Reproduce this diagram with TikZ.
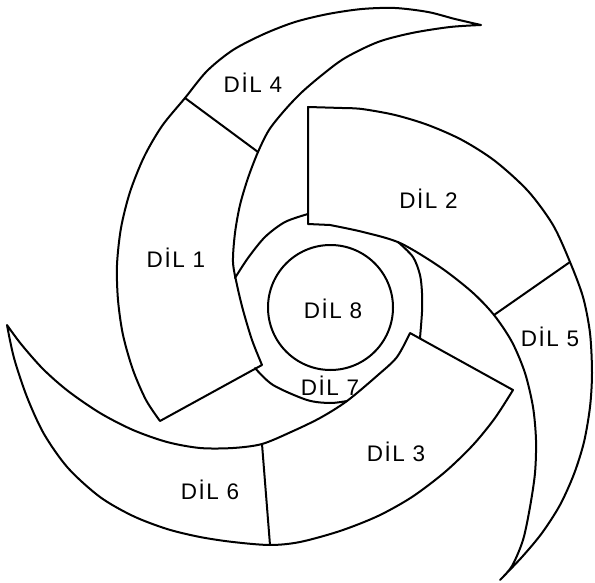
\documentclass[tikz,border=0pt]{standalone}
\usepackage{fontspec}
\setmainfont{Liberation Sans}[LetterSpace=7]
\begin{document}
\begin{tikzpicture}[x=1pt,y=-1pt,
  edge/.style={line width=2pt,line join=round,line cap=round},
  lbl/.style={anchor=base,inner sep=0pt,font=\fontsize{22.5}{26}\selectfont}]
\useasboundingbox (0,0) rectangle (595,583);
% blade 1 (DIL 4 + DIL 1)
\draw[edge] plot[smooth] coordinates {(481,25) (455,19) (428,12) (395,8) (362,9) (328,14) (295,22) (264,34) (233,50) (207,71) (185,98) (162,126) (144,157) (130,192) (121,228) (117,265) (118,300) (123,335) (133,370) (146,400) (160,421)}
  -- plot[smooth] coordinates {(262,365) (252,340) (243,310) (237,285) (233,262) (235,233) (240,205) (248,178) (258,152) (269,130) (284,111) (301,93) (322,75) (345,58) (378,42) (412,33) (450,27) (481,25)};
% blade 2 (DIL 2 + DIL 5)
\draw[edge] (308,224) -- (308,107) -- plot[smooth] coordinates {(342,108) (362,109) (395,115) (428,125) (462,140) (495,161) (528,191) (553,225) (570,262) (583,297) (590,333) (592,373) (590,407) (584,442) (574,474) (560,505) (542,533) (522,557) (500,580)}
  -- plot[smooth] coordinates {(500,580) (512,566) (523,540) (530,507) (535,473) (536,440) (533,407) (525,373) (512,342) (494,315) (472,292) (440,267) (400,243) (363,232) (330,225)} -- cycle;
% blade 3 (DIL 3 + DIL 6)
\draw[edge] (410,333) -- plot[smooth] coordinates {(513,390) (495,418) (473,445) (445,472) (412,497) (378,516) (340,531) (300,542) (270,545) (233,542) (200,537) (167,529) (133,516) (100,497) (68,468) (44,434) (27,397) (14,358) (7,325)}
  -- plot[smooth] coordinates {(7,325) (21,344) (43,369) (68,391) (100,413) (133,430) (167,442) (200,448) (233,448) (262,444) (291,432) (320,418) (347,401) (378,375) (397,357) (410,333)};
% ring (DIL 7)
\draw[edge] plot[smooth] coordinates {(308,214) (285,222) (265,237) (248,258) (235,278)};
\draw[edge] plot[smooth] coordinates {(398,242) (413,257) (420,275) (422,293) (422,312) (420,338)};
\draw[edge] plot[smooth] coordinates {(255,368) (273,385) (307,400) (330,403) (347,401)};
% centre circle (DIL 8)
\draw[edge] (330.5,307.5) circle[radius=62.5pt];
% dividers
\draw[edge] (185,98) -- (258,152);
\draw[edge] (570,262) -- (494,315);
\draw[edge] (262,444) -- (270,545);
% labels
\node[lbl] (d4) at (253,93) {DİL 4};
\node[lbl] (d1) at (176,267) {DİL 1};
\node[lbl] (d2) at (428.5,208) {DİL 2};
\node[lbl] (d5) at (550,346) {DİL 5};
\node[lbl] (d8) at (333,318) {DİL 8};
\node[lbl] (d7) at (330,395) {DİL 7};
\node[lbl] (d3) at (396,461) {DİL 3};
\node[lbl] (d6) at (210,499) {DİL 6};
\end{tikzpicture}
\end{document}
